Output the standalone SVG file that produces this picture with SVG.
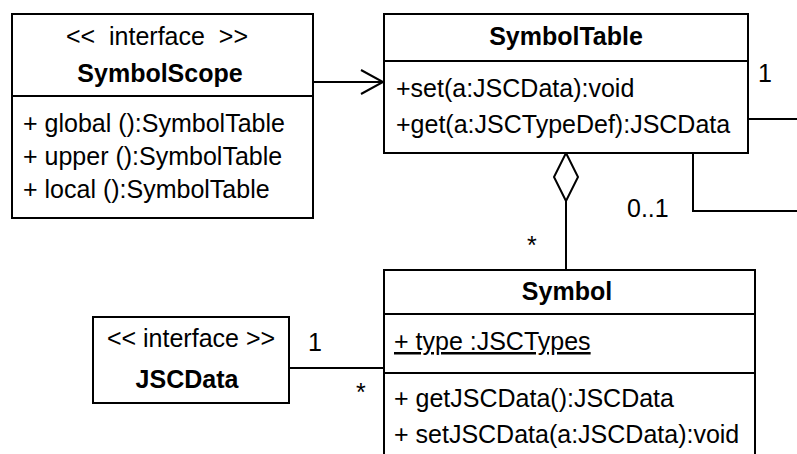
<svg xmlns="http://www.w3.org/2000/svg" width="797" height="454" viewBox="0 0 797 454">
<style>
.box{fill:#fff;stroke:#000;stroke-width:2}
.ln{fill:none;stroke:#000;stroke-width:2}
text{font-family:"Liberation Sans",Arial,sans-serif;font-size:25px;fill:#000}
.b{font-weight:bold}
.c{text-anchor:middle}
</style>
<rect width="797" height="454" fill="#fff"/>
<g id="connectors">
<line class="ln" x1="313" y1="82" x2="383" y2="82"/>
<polyline class="ln" points="361,70 383,82 361,94"/>
<line class="ln" x1="748" y1="119" x2="797" y2="119"/>
<polyline class="ln" points="693,153 693,211 797,211"/>
<polygon class="ln" fill="#fff" points="566,153 578,177 566,201 554,177"/>
<line class="ln" x1="566" y1="201" x2="566" y2="270"/>
<line class="ln" x1="289" y1="368" x2="384" y2="368"/>
<text x="758" y="82">1</text>
<text x="627" y="217">0..1</text>
<text x="527" y="254">*</text>
<text x="308" y="351">1</text>
<text x="356" y="401">*</text>
</g>
<g id="SymbolScope">
<rect class="box" x="12" y="14" width="301" height="204"/>
<line class="ln" x1="12" y1="96" x2="313" y2="96"/>
<text class="c" x="157" y="45">&lt;&lt;&#160; interface &#160;&gt;&gt;</text>
<text class="c b" x="160" y="82">SymbolScope</text>
<text x="23" y="132">+ global ():SymbolTable</text>
<text x="23" y="165">+ upper ():SymbolTable</text>
<text x="23" y="198">+ local ():SymbolTable</text>
</g>
<g id="SymbolTable">
<rect class="box" x="384" y="14" width="364" height="139"/>
<line class="ln" x1="384" y1="61" x2="748" y2="61"/>
<text class="c b" x="566" y="45">SymbolTable</text>
<text x="396" y="97">+set(a:JSCData):void</text>
<text x="396" y="133">+get(a:JSCTypeDef):JSCData</text>
</g>
<g id="Symbol">
<rect class="box" x="384" y="270" width="371" height="200"/>
<line class="ln" x1="384" y1="314" x2="755" y2="314"/>
<line class="ln" x1="384" y1="373" x2="755" y2="373"/>
<text class="c b" x="567" y="300">Symbol</text>
<text x="394" y="350" text-decoration="underline">+ type :JSCTypes</text>
<text x="394" y="407">+ getJSCData():JSCData</text>
<text x="394" y="443">+ setJSCData(a:JSCData):void</text>
</g>
<g id="JSCData">
<rect class="box" x="93" y="317" width="196" height="86"/>
<text class="c" x="191" y="347">&lt;&lt; interface &gt;&gt;</text>
<text class="c b" x="187" y="388">JSCData</text>
</g>
</svg>
